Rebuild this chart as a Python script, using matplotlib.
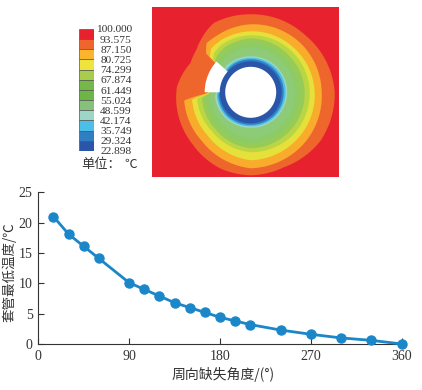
import numpy as np
import matplotlib
matplotlib.use("Agg")
import matplotlib.pyplot as plt

W, H = 422, 390
CJK = ['Noto Sans CJK SC', 'DejaVu Sans']
SERIF = 'Liberation Serif'
DARK = '#333333'

# line chart
angles = [15, 30, 45, 60, 90, 105, 120, 135, 150, 165, 180, 195, 210, 240, 270, 300, 330, 360]
min_temp = [21.0, 18.1, 16.1, 14.1, 10.1, 9.0, 7.9, 6.8, 6.0, 5.2, 4.4, 3.8, 3.2, 2.3, 1.6, 1.0, 0.6, 0.0]
x_ticks = [0, 90, 180, 270, 360]
y_ticks = [0, 5, 10, 15, 20, 25]

# colour scale, top to bottom
levels = [100.000, 93.575, 87.150, 80.725, 74.299, 67.874, 61.449, 55.024, 48.599, 42.174, 35.749, 29.324, 22.898]
band_colors = ['#e8212f', '#ee662c', '#fab52c', '#eee43e', '#a8cd4a', '#74b947', '#6db545',
               '#86c17a', '#9dd5c6', '#4bbfe8', '#2f7fc2', '#2b55a8']
# the field looks paler than the legend
field_colors = ['#ee662c', '#f9ab2c', '#e6e03a', '#bad645', '#97cb58', '#8ccb66',
                '#8dcb78', '#9bd5c8', '#4bbfe8', '#2f7fc2', '#2b55a8']

# contour outlines as radius (px from hole centre) per direction in degrees
outer_deg = [0, 46, 90, 118, 125, 132, 142, 154, 176, 192, 222, 248, 270, 294, 325, 360]
orange_r = [84, 79, 78, 78.5, 76, 73, 69, 67, 74, 75.5, 78, 82, 83, 82, 85, 84]

band_deg = [0, 45, 90, 120, 132, 139, 141, 179, 182, 187, 225, 270, 315, 360]
ochre_r = [71, 70, 68, 66, 66, 59, 40, 40, 46, 67, 69, 76, 74, 71]
yellow_r = [64, 62, 61, 60, 59, 54, 40, 40, 44, 59, 61, 68, 66, 64]
lime_r = [59, 58, 57, 56, 54, 50, 40, 40, 42, 54, 55, 60, 60, 59]
green_r = [54, 53, 54, 52, 50, 47, 40, 40, 42, 49, 51, 56, 55, 54]
green2_r = [49, 48, 49, 47, 46, 44, 40, 40, 41, 45, 47, 52, 50, 49]
pale_r = [44, 44, 45, 43, 42, 41, 38, 38, 39, 41, 42, 46, 45, 44]
teal_r = [36.5, 36.5, 36, 36, 36, 35, 34, 34, 35, 36, 36, 35.5, 36, 36.5]
sky_r = [35, 35, 34.5, 34.5, 34, 33.5, 33, 33, 33.5, 34, 34.5, 34, 34.5, 35]
mid_r = [33, 33, 33, 33, 32.5, 32, 32, 32, 32, 32.5, 33, 32.5, 33, 33]
dark_r = [31, 31, 31, 31, 31, 31, 31, 31, 31, 31, 31, 31, 31, 31]
hole_r = 25.5
gap_deg = [138, 180]
gap_r = [31, 46]


def px_axes(left, top, right, bottom):
    return fig.add_axes([left / W, 1 - bottom / H, (right - left) / W, (bottom - top) / H])


def fill_outline(ax, deg, r, color):
    t = np.linspace(0, 360, 721)
    rr = np.interp(t, deg, r)
    ax.fill(rr * np.cos(np.radians(t)), rr * np.sin(np.radians(t)), color=color, lw=0)


fig = plt.figure(figsize=(W / 100, H / 100), dpi=100)

# contour panel
ax = px_axes(152.3, 7, 339.3, 177)
ax.set_xlim(-98.4, 88.6)
ax.set_ylim(-84.7, 85.3)
ax.set_facecolor(band_colors[0])
ax.set_xticks([])
ax.set_yticks([])
for s in ax.spines.values():
    s.set_visible(False)
fill_outline(ax, outer_deg, orange_r, field_colors[0])
outlines = [ochre_r, yellow_r, lime_r, green_r, green2_r, pale_r, teal_r, sky_r, mid_r, dark_r]
for r, c in zip(outlines, field_colors[1:]):
    fill_outline(ax, band_deg, r, c)
fill_outline(ax, [0, 360], [hole_r, hole_r], 'white')
# missing sector
t = np.radians(np.linspace(gap_deg[0], gap_deg[1], 40))
ax.fill(np.r_[gap_r[1] * np.cos(t), gap_r[0] * np.cos(t[::-1])],
        np.r_[gap_r[1] * np.sin(t), gap_r[0] * np.sin(t[::-1])], color='white', lw=0)

# colour legend
cax = px_axes(78.5, 29, 94, 151)
cax.barh(levels[:-1], np.ones(12), height=np.diff(levels), align='edge', color=band_colors,
         edgecolor='#555555', linewidth=0.5)
cax.set_xlim(0, 1)
cax.set_ylim(levels[-1], levels[0])
cax.set_xticks([])
cax.set_yticks(levels, ['%.3f' % v for v in levels], family=SERIF, fontsize=8.2, color=DARK, ha='right')
cax.yaxis.tick_right()
cax.tick_params(axis='y', length=0, pad=27.2)
for s in cax.spines.values():
    s.set_visible(False)
fig.text(81 / W, 1 - 164 / H, '单位：', family=CJK, fontsize=9.5, color=DARK, va='center')
fig.text(124 / W, 1 - 164 / H, '℃', family=CJK, fontsize=9, color=DARK, va='center')

# line chart
ax2 = px_axes(38.3, 192.3, 401.7, 344)
ax2.plot(angles, min_temp, color='#1b86c8', lw=2, marker='o', ms=6.5, clip_on=False, zorder=5)
ax2.set_xlim(0, 360)
ax2.set_ylim(0, 25)
ax2.set_xticks(x_ticks)
ax2.set_yticks(y_ticks)
ax2.spines['top'].set_visible(False)
ax2.spines['right'].set_visible(False)
ax2.spines['left'].set_color(DARK)
ax2.spines['bottom'].set_color(DARK)
ax2.tick_params(direction='in', length=4.5, width=0.8, color=DARK, labelcolor=DARK, labelsize=10, pad=4)
for lab in ax2.get_xticklabels() + ax2.get_yticklabels():
    lab.set_family(SERIF)
fig.text(223 / W, 1 - 374 / H, '周向缺失角度/(°)', family=CJK, fontsize=10, color=DARK, ha='center', va='center')
fig.text(9.5 / W, 1 - 272 / H, '套管最低温度/℃', family=CJK, fontsize=9.7, color=DARK,
         rotation=90, ha='center', va='center')

fig.savefig('out.png', dpi=100)
